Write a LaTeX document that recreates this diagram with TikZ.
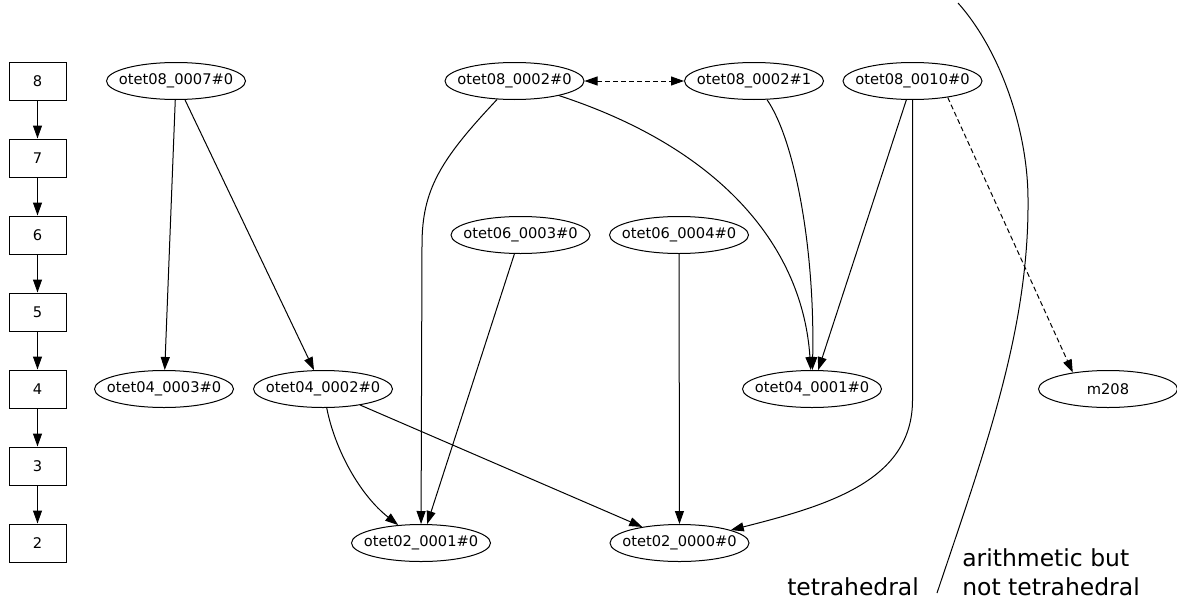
\documentclass[tikz,border=0pt]{standalone}
\usepackage{fontspec}
\setmainfont{DejaVu Sans}
\usetikzlibrary{arrows.meta,shapes.geometric}

\def \ranklist {8/81,7/158,6/235,5/312,4/389,3/466,2/543}
\def \otetlist {otet08\_0007\#0/e0807/176/81,otet08\_0002\#0/e0802a/514.5/81,otet08\_0002\#1/e0802b/754/81,otet08\_0010\#0/e0810/912.5/81,otet06\_0003\#0/e0603/520.5/235,otet06\_0004\#0/e0604/679/235,otet04\_0003\#0/e0403/164/389,otet04\_0002\#0/e0402/323/389,otet04\_0001\#0/e0401/812/389,m208/m208/1108/389,otet02\_0001\#0/e0201/421/543,otet02\_0000\#0/e0200/679.5/543}
\newcommand\flatlabel[1]{\makebox[0pt]{#1}}

\begin{document}
\begin{tikzpicture}
   [x=0.75pt, y=-0.75pt, >={Triangle[length=9.75pt,width=6.75pt]},
   rank/.style={draw, line width=0.75pt, rectangle, inner sep=0pt, minimum width=42.75pt, minimum height=28.5pt, font=\fontsize{11}{13}\selectfont},
   otet/.style={draw, line width=0.75pt, ellipse, inner sep=0pt, minimum width=104.25pt, minimum height=27.75pt, font=\fontsize{11}{13}\selectfont},
   link/.style={line width=0.75pt, ->},
   twin/.style={line width=0.75pt, dash pattern=on 3.75pt off 2.25pt},
   side/.style={inner sep=0pt, anchor=base west, font=\fontsize{17.6}{21}\selectfont}]{
\useasboundingbox (0,0) rectangle (1177,603);

% rank column
\foreach \r / \y in \ranklist {
   \node[rank] (r\r) at (37.5,\y) {\r}; }
\foreach \a / \b in {8/7,7/6,6/5,5/4,4/3,3/2}
   \draw[link] (r\a) -- (r\b);

% manifolds
\foreach \lab / \nm / \x / \y in \otetlist {
   \node[otet] (\nm) at (\x,\y) {\flatlabel{\lab}}; }

\draw[link] (e0807) -- (e0403);
\draw[link] (e0807) -- (e0402);
\draw[twin, <->] (e0802a) -- (e0802b);
\draw[link] (e0802a) .. controls (440,160) and (422,190) .. (422,245) -- (e0201);
\draw[link] (e0802a) .. controls (725,150) and (803,250) .. (e0401);
\draw[link] (e0802b) .. controls (795,140) and (815,250) .. (e0401);
\draw[link] (e0810) -- (e0401);
\draw[link] (e0810) -- (912.5,400) .. controls (912.5,480) and (830,505) .. (e0200);
\draw[twin, ->] (e0810.-25) -- (m208.155);
\draw[link] (e0603) -- (e0201);
\draw[link] (e0604) -- (e0200);
\draw[link] (e0402) .. controls (335,450) and (360,495) .. (e0201);
\draw[link] (e0402) -- (e0200);

% dividing curve
\draw[line width=0.75pt] (958,3) .. controls (1000,50) and (1028,130) .. (1028,200)
   .. controls (1029,330) and (985,450) .. (937,593);
\node[side] (lbltet) at (787,595) {tetrahedral};
\node[side] (lblarith) at (962,566) {arithmetic but};
\node[side] (lblnot) at (962,595) {not tetrahedral};
};
\end{tikzpicture}
\end{document}
